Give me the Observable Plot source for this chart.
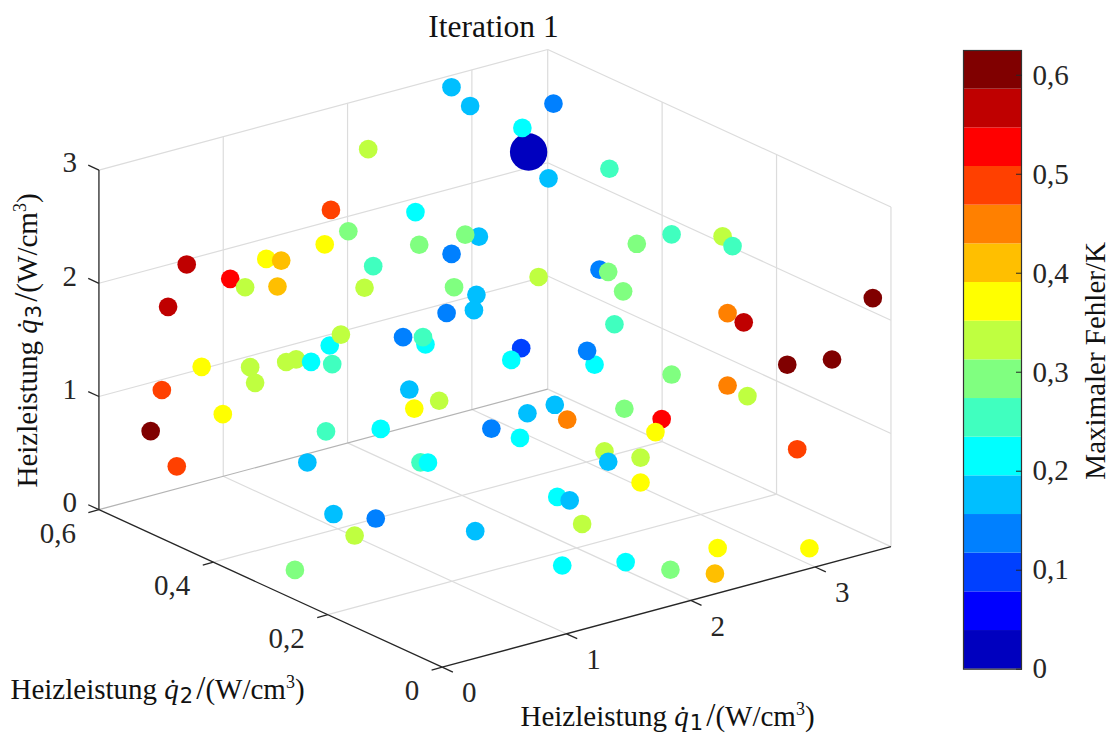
<!DOCTYPE html>
<html lang="de">
<head>
<meta charset="utf-8">
<script src="https://cdn.jsdelivr.net/npm/d3@7"></script>
<script src="https://cdn.jsdelivr.net/npm/@observablehq/plot@0.6"></script>
<style>
html,body{margin:0;padding:0;background:#fff}
#chart{position:relative;width:1110px;height:735px;overflow:hidden}
#chart svg{position:absolute;left:0;top:0;background:transparent}
</style>
</head>
<body>
<div id="chart"></div>
<script>
// Heizleistung q1, q2, q3 in W/cm3 and maximaler Fehler in K
const q1Values = [2.84,2.99,3.20,2.95,2.54,2.70,3.19,2.09,1.66,2.14,2.03,1.46,2.95,3.23,2.16,2.65,2.72,
  2.17,1.41,1.55,1.36,1.29,0.89,1.01,0.25,0.60,0.72,0.98,1.22,0.10,0.48,0.57,0.37,0.30,0.67,0.59,0.33,0.50,
  0.05,0.34,0.08,0.19,0.45,0.17,0.30,0.43,1.48,1.66,1.64,1.42,1.07,0.79,0.77,1.56,1.48,2.15,2.09,2.38,2.31,2.77,
  0.66,0.90,0.70,1.83,1.61,1.93,2.39,2.69,2.64,1.32,1.55,2.23,2.26,2.52,2.52,0.75,0.81,1.85,1.95,
  0.05,0.39,0.22,0.73,1.43,0.20,1.59,1.94,2.07,2.45,2.29,3.05,3.32,3.18,3.26,3.56,3.22,3.35,3.24,3.60,3.22,3.38];
const q2Values = [0.6,0.6,0.5,0.5,0.4,0.4,0.4,0.5,0.4,0.4,0.4,0.3,0.3,0.3,0.3,0.3,0.3,
  0.6,0.5,0.5,0.5,0.4,0.5,0.5,0.5,0.5,0.5,0.5,0.4,0.5,0.3,0.3,0.5,0.4,0.4,0.4,0.3,0.3,
  0.5,0.4,0.4,0.55,0.3,0.5,0.3,0.2,0.3,0.3,0.3,0.3,0.3,0.2,0.2,0.2,0.2,0.2,0.2,0.2,0.2,0.2,
  0.2,0.2,0.2,0.2,0.2,0.2,0.2,0.2,0.2,0.2,0.2,0.2,0.2,0.2,0.2,0.2,0.2,0.2,0.2,
  0.2,0.2,0.2,0.1,0.1,0.3,0.1,0.1,0.05,0.05,0.02,0.02,0.1,0.2,0.2,0.02,0.2,0.2,0.1,0.1,0.2,0.2];
const q3Values = [2.89,2.68,2.87,2.73,2.87,2.59,2.53,2.24,2.31,2.24,2.29,2.52,2.17,2.17,2.11,2.03,1.99,
  2.54,2.46,2.23,2.17,2.23,2.18,2.13,2.32,2.09,1.98,1.91,2.06,1.99,2.00,2.07,1.38,1.63,1.59,1.59,1.90,1.83,
  1.27,1.48,1.28,0.75,1.25,0.56,1.02,1.51,2.22,2.10,1.97,2.01,1.90,2.15,2.22,1.89,1.81,1.57,1.71,2.15,1.88,1.30,
  1.79,1.62,1.61,1.31,1.30,1.15,1.11,0.93,0.83,1.25,1.10,0.78,0.68,0.64,0.42,1.12,1.10,0.49,0.43,
  0.87,0.73,0.63,0.75,0.24,0.10,0.56,0.12,0.13,0.21,0.10,0.10,0.71,2.40,2.29,2.16,1.71,1.59,1.48,1.42,1.07,0.93];
const errValues = [0.177,0.177,0.138,0.216,0,0.177,0.255,0.216,0.295,0.177,0.295,0.138,0.295,0.255,0.334,0.138,0.295,
  0.334,0.491,0.295,0.373,0.255,0.373,0.412,0.570,0.530,0.334,0.412,0.334,0.570,0.216,0.334,0.373,0.334,0.334,0.334,0.216,0.255,
  0.491,0.334,0.373,0.609,0.255,0.491,0.177,0.216,0.295,0.177,0.177,0.138,0.138,0.216,0.255,0.098,0.216,0.216,0.138,0.295,0.255,0.295,
  0.177,0.334,0.373,0.177,0.177,0.452,0.295,0.530,0.373,0.138,0.216,0.334,0.177,0.334,0.373,0.255,0.216,0.216,0.177,
  0.177,0.138,0.334,0.177,0.216,0.295,0.334,0.216,0.295,0.373,0.412,0.373,0.491,0.334,0.255,0.609,0.452,0.570,0.609,0.609,0.452,0.334];

const q1Ticks = [0,1,2,3];
const q2Ticks = [0,0.2,0.4,0.6];
const q3Ticks = [0,1,2,3];
const errTicks = [0,0.1,0.2,0.3,0.4,0.5,0.6];
const q1Max = 3.61, q2Max = 0.6, q3Max = 3, errMax = 0.625;
const jetColors = ["#0000bf","#0000ff","#0040ff","#0080ff","#00bfff","#00ffff","#40ffbf","#80ff80",
  "#bfff40","#ffff00","#ffbf00","#ff8000","#ff4000","#ff0000","#bf0000","#800000"];

const comma = v => String(v).replace(".", ",");
const serif = "'Liberation Serif','Times New Roman',serif";
const ink = "#262626";

// fixed orthographic view of the 3D box
const viewX = (a,b,c) => a - 4.602*b;
const viewY = (a,b,c) => c + 0.295*a + 2.319*b;
const seg = (p,q) => ({x1:viewX(...p),y1:viewY(...p),x2:viewX(...q),y2:viewY(...q)});

const points = q1Values.map((q,i)=>({x:viewX(q,q2Values[i],q3Values[i]),y:viewY(q,q2Values[i],q3Values[i]),err:errValues[i]}));
const steps = jetColors.map((c,i)=>i*errMax/jetColors.length);
const colorScale = {type:"threshold",domain:steps.slice(1),range:jetColors};

const grid = [];
[1,2,3,q1Max].forEach(q=>grid.push(seg([q,q2Max,0],[q,q2Max,q3Max])));
[1,2,3].forEach(z=>{grid.push(seg([0,q2Max,z],[q1Max,q2Max,z]));grid.push(seg([q1Max,0,z],[q1Max,q2Max,z]));});
[0,0.2,0.4].forEach(y=>grid.push(seg([q1Max,y,0],[q1Max,y,q3Max])));
[1,2,3].forEach(q=>grid.push(seg([q,0,0],[q,q2Max,0])));
[0.2,0.4].forEach(y=>grid.push(seg([0,y,0],[q1Max,y,0])));
grid.push(seg([q1Max,0,0],[q1Max,q2Max,0]));
const backEdge = [seg([0,q2Max,0],[q1Max,q2Max,0])];
const axes = [seg([0,0,0],[q1Max,0,0]),seg([0,0,0],[0,q2Max,0]),seg([0,q2Max,0],[0,q2Max,q3Max])];
q1Ticks.forEach(t=>axes.push(seg([t,0,0],[t,-0.0187,0])));
q2Ticks.forEach(t=>axes.push(seg([0,t,0],[-0.085,t,0])));
q3Ticks.forEach(t=>axes.push(seg([0,q2Max,t],[0,q2Max+0.0187,t])));

const tickText = (data,pos,opts)=>Plot.text(data,{x:d=>viewX(...pos(d)),y:d=>viewY(...pos(d)),text:comma,fontSize:29,fill:ink,...opts});
const label = (text,opts)=>Plot.text([text],{text:d=>d,frameAnchor:"top-left",fontSize:29,fill:"#111",className:"rich",...opts});

const main = Plot.plot({
  width:1110,height:735,margin:0,
  style:{fontFamily:serif,background:"transparent"},
  x:{domain:[-3.553,5.376],axis:null},
  y:{domain:[-0.6034,5.8896],axis:null},
  r:{type:"identity"},
  color:colorScale,
  marks:[
    Plot.link(grid,{x1:"x1",y1:"y1",x2:"x2",y2:"y2",stroke:"#dcdcdc",strokeWidth:1.2}),
    Plot.link(backEdge,{x1:"x1",y1:"y1",x2:"x2",y2:"y2",stroke:"#b4b4b4",strokeWidth:1.2}),
    Plot.link(axes,{x1:"x1",y1:"y1",x2:"x2",y2:"y2",stroke:ink,strokeWidth:1.3}),
    tickText(q3Ticks,t=>[0,q2Max,t],{textAnchor:"end",dx:-22,dy:-7}),
    tickText(q2Ticks,t=>[0,t,0],{textAnchor:"end",dx:-23,dy:24}),
    tickText(q1Ticks,t=>[t,0,0],{textAnchor:"middle",dx:27,dy:26}),
    Plot.dot(points,{x:"x",y:"y",fill:"err",r:d=>d.err===0?18.7:9.33,stroke:null,dx:-0.5,dy:-0.5}),
    Plot.text(["Iteration 1"],{text:d=>d,frameAnchor:"top",dx:-62,dy:26,lineAnchor:"middle",fontSize:31.5,fill:"#111"}),
    label("Heizleistung |1",{dx:520,dy:716,lineAnchor:"middle"}),
    label("Heizleistung |2",{dx:10,dy:689,lineAnchor:"middle"}),
    label("Heizleistung |3",{dx:27,dy:487,rotate:-90,lineAnchor:"middle"})
  ]
});
main.setAttribute("overflow","visible");
// rich axis titles: dotted italic q with its index, then the unit
d3.select(main).selectAll(".rich text").each(function(){
  const el=d3.select(this);
  const parts=el.text().split("|");
  el.text(null);
  el.append("tspan").text(parts[0]);
  el.append("tspan").attr("font-style","italic").text("q\u0307");
  el.append("tspan").attr("font-family","'DejaVu Sans'").attr("font-size",21).attr("dx",1).attr("dy",4).text(parts[1]);
  el.append("tspan").attr("dx",3).attr("dy",-4).attr("font-size",33).text("/");
  el.append("tspan").text("(W/cm");
  el.append("tspan").attr("font-size",18).attr("dy",-11).text("3");
  el.append("tspan").attr("dy",11).text(")");
});

const levels = jetColors.map((c,i)=>({y1:steps[i],y2:i+1<steps.length?steps[i+1]:errMax,v:steps[i]+errMax/jetColors.length/2}));
const bar = Plot.plot({
  width:1110,height:735,
  marginLeft:963,marginRight:89,marginTop:50,marginBottom:66.3,
  style:{fontFamily:serif,background:"transparent"},
  x:{domain:[0,1],axis:null},
  y:{domain:[0,errMax],axis:null},
  color:colorScale,
  marks:[
    Plot.rectY(levels,{x1:0,x2:1,y1:"y1",y2:"y2",fill:"v"}),
    Plot.frame({stroke:"#333",strokeWidth:1.2}),
    Plot.axisY(errTicks,{anchor:"right",tickSize:-6,tickPadding:17,tickFormat:comma,fontSize:29,fill:ink,stroke:ink,label:null,textStroke:"none"}),
    Plot.text(["Maximaler Fehler/K"],{text:d=>d,frameAnchor:"middle",rotate:-90,dx:103,dy:1,fontSize:29,fill:"#111"})
  ]
});
bar.setAttribute("overflow","visible");
const chart=document.getElementById("chart");
chart.append(main);
chart.append(bar);
</script>
</body>
</html>
